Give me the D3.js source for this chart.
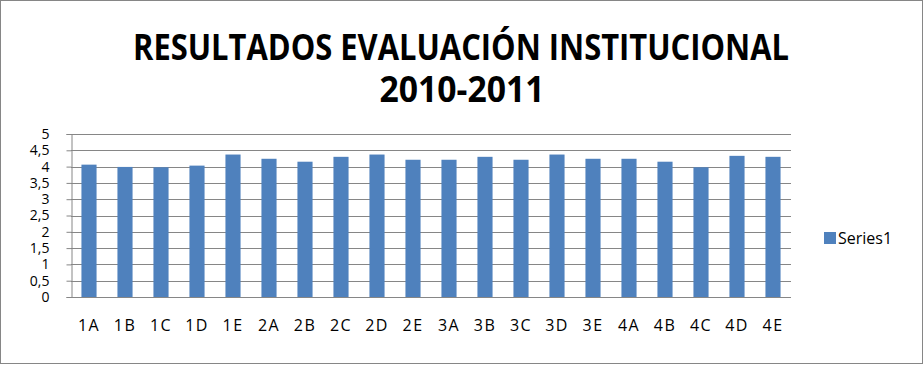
<!DOCTYPE html>
<html>
<head>
<meta charset="utf-8">
<script src="https://cdn.jsdelivr.net/npm/d3@7"></script>
<style>
  body { margin: 0; background: white; }
  text { font-family: "Open Sans", "Liberation Sans", sans-serif; }
</style>
</head>
<body>
<script>
var grupos = ["1A", "1B", "1C", "1D", "1E", "2A", "2B", "2C", "2D", "2E",
              "3A", "3B", "3C", "3D", "3E", "4A", "4B", "4C", "4D", "4E"];
var series1 = [4.06, 3.99, 3.98, 4.03, 4.37, 4.24, 4.15, 4.30, 4.37, 4.21,
               4.21, 4.30, 4.21, 4.37, 4.24, 4.24, 4.15, 3.98, 4.33, 4.30];
var ticksY = [0, 0.5, 1, 1.5, 2, 2.5, 3, 3.5, 4, 4.5, 5];
var titulo = ["RESULTADOS EVALUACIÓN INSTITUCIONAL", "2010-2011"];

var ancho = 924, alto = 365;
var plot = { left: 71, right: 791, top: 134, bottom: 297 };

var svg = d3.select("body").append("svg")
    .attr("width", ancho)
    .attr("height", alto);

// borde exterior
svg.append("rect")
    .attr("x", 0.5).attr("y", 0.5)
    .attr("width", ancho - 2).attr("height", alto - 2)
    .attr("fill", "white")
    .attr("stroke", "#868686");

// titulo
svg.append("text")
    .attr("x", 461).attr("y", 60)
    .attr("text-anchor", "middle")
    .attr("font-size", 36).attr("font-weight", "bold")
    .attr("textLength", 656).attr("lengthAdjust", "spacingAndGlyphs")
    .text(titulo[0]);
svg.append("text")
    .attr("x", 462).attr("y", 102)
    .attr("text-anchor", "middle")
    .attr("font-size", 36).attr("font-weight", "bold")
    .attr("textLength", 165).attr("lengthAdjust", "spacingAndGlyphs")
    .text(titulo[1]);

var x = d3.scaleBand()
    .domain(grupos)
    .range([plot.left, plot.right])
    .paddingInner(0.58)
    .paddingOuter(0.29);

var y = d3.scaleLinear()
    .domain([0, 5])
    .range([plot.bottom, plot.top]);

var fmt = d => String(d).replace(".", ",");

// lineas de cuadricula
svg.append("g")
    .selectAll("line")
    .data(ticksY)
    .join("line")
    .attr("x1", plot.left).attr("x2", plot.right)
    .attr("y1", d => Math.round(y(d)) + 0.5)
    .attr("y2", d => Math.round(y(d)) + 0.5)
    .attr("stroke", "#868686");

// eje y
var ejeY = svg.append("g")
    .attr("transform", "translate(" + (plot.left + 0.5) + ",0)")
    .call(d3.axisLeft(y).tickValues(ticksY).tickFormat(fmt).tickSize(5).tickPadding(17));
ejeY.select(".domain").attr("stroke", "#868686");
ejeY.selectAll(".tick line").attr("stroke", "#868686");
ejeY.selectAll("text")
    .attr("font-size", 14)
    .attr("fill", "#000")
    .attr("font-family", "\"Open Sans\", sans-serif");

// barras
svg.append("g")
    .selectAll("rect")
    .data(series1)
    .join("rect")
    .attr("x", (d, i) => x(grupos[i]))
    .attr("y", d => y(d))
    .attr("width", x.bandwidth())
    .attr("height", d => y(0) - y(d))
    .attr("fill", "#4f81bd");

// etiquetas x
var ejeX = svg.append("g")
    .attr("transform", "translate(0," + (plot.bottom + 0.5) + ")")
    .call(d3.axisBottom(x).tickSize(0).tickPadding(22));
ejeX.select(".domain").remove();
ejeX.selectAll("text")
    .attr("font-size", 16)
    .attr("fill", "#000")
    .attr("letter-spacing", 1.5)
    .attr("font-family", "\"Open Sans\", sans-serif");

// leyenda
var leyenda = svg.append("g").attr("transform", "translate(824,232)");
leyenda.append("rect")
    .attr("width", 12).attr("height", 12)
    .attr("fill", "#4f81bd");
leyenda.append("text")
    .attr("x", 14).attr("y", 12)
    .attr("font-size", 16)
    .text("Series1");
</script>
</body>
</html>
